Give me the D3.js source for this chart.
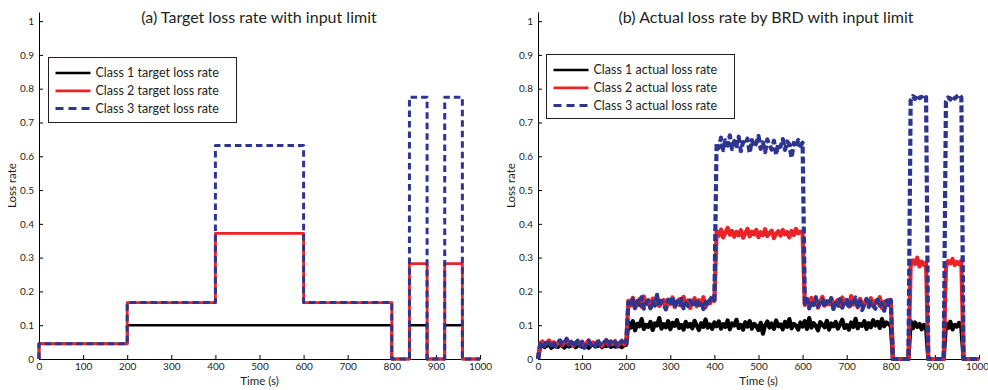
<!DOCTYPE html>
<html><head><meta charset="utf-8">
<script src="https://cdn.jsdelivr.net/npm/d3@7"></script>
<style>body{margin:0;background:#fff;} svg{display:block;font-family:Lato,'Open Sans',sans-serif;}</style>
</head><body><svg id="c" width="988" height="390"></svg>
<script>
// ---- data ----
const stepTimes = [0,200,400,600,800,840,880,920,960,1000];
const target1 = [0.045,0.1,0.1,0.1,0,0.1,0,0.1,0,0];
const target2 = [0.045,0.167,0.372,0.167,0,0.282,0,0.282,0,0];
const target3 = [0.045,0.167,0.632,0.167,0,0.775,0,0.775,0,0];
const xTicks = [0,100,200,300,400,500,600,700,800,900,1000];
const yTicks = [0,0.1,0.2,0.3,0.4,0.5,0.6,0.7,0.8,0.9,1];
const actualTimes = d3.range(0, 1001, 5);
const actual1 = [
 0,0.038,0.042,0.035,0.040,0.045,0.033,0.038,0.041,0.036,
 0.044,0.039,0.034,0.042,0.037,0.040,0.046,0.035,0.039,0.043,
 0.036,0.041,0.038,0.033,0.040,0.044,0.037,0.039,0.042,0.035,
 0.041,0.038,0.043,0.036,0.040,0.037,0.044,0.039,0.035,0.041,
 0.042,0.108,0.093,0.112,0.085,0.104,0.097,0.118,0.089,0.101,
 0.095,0.110,0.086,0.105,0.099,0.121,0.090,0.103,0.094,0.112,
 0.088,0.107,0.098,0.115,0.092,0.101,0.087,0.110,0.096,0.104,
 0.091,0.113,0.099,0.086,0.106,0.095,0.117,0.093,0.102,0.089,
 0.108,0.097,0.111,0.090,0.103,0.095,0.114,0.088,0.105,0.099,
 0.116,0.092,0.101,0.087,0.109,0.096,0.112,0.090,0.104,0.098,
 0.086,0.107,0.075,0.100,0.111,0.093,0.105,0.089,0.114,0.097,
 0.102,0.088,0.110,0.095,0.118,0.091,0.104,0.099,0.087,0.108,
 0.096,0.112,0.089,0.121,0.093,0.106,0.098,0.085,0.109,0.101,
 0.094,0.113,0.087,0.105,0.097,0.110,0.090,0.103,0.116,0.092,
 0.100,0.087,0.108,0.095,0.119,0.091,0.104,0.098,0.112,0.089,
 0.106,0.094,0.115,0.099,0.110,0.092,0.118,0.097,0.108,0.103,
 0.098,0,0,0,0,0,0,0,0,0.112,
 0.091,0.108,0.095,0.104,0.088,0.101,0.094,0,0,0,
 0,0,0,0,0,0.105,0.092,0.110,0.088,0.101,
 0.096,0.107,0.093,0,0,0,0,0,0,0,
 0];
const actual2 = [
 0,0.045,0.052,0.040,0.048,0.055,0.043,0.050,0.038,0.047,
 0.053,0.041,0.049,0.058,0.044,0.051,0.039,0.046,0.054,0.042,
 0.050,0.036,0.047,0.055,0.043,0.049,0.040,0.052,0.045,0.038,
 0.048,0.056,0.042,0.050,0.044,0.053,0.039,0.047,0.051,0.043,
 0.045,0.172,0.158,0.181,0.150,0.168,0.177,0.155,0.185,0.162,
 0.170,0.152,0.179,0.160,0.188,0.157,0.166,0.175,0.149,0.171,
 0.163,0.182,0.154,0.169,0.176,0.158,0.184,0.161,0.173,0.151,
 0.167,0.180,0.156,0.174,0.162,0.183,0.153,0.170,0.165,0.178,
 0.172,0.378,0.365,0.383,0.360,0.374,0.388,0.368,0.379,0.362,
 0.376,0.366,0.381,0.359,0.372,0.385,0.363,0.377,0.369,0.382,
 0.361,0.375,0.367,0.384,0.364,0.373,0.380,0.358,0.371,0.378,
 0.365,0.382,0.369,0.376,0.360,0.379,0.367,0.385,0.372,0.377,
 0.370,0.160,0.174,0.155,0.181,0.163,0.177,0.152,0.169,0.184,
 0.158,0.171,0.162,0.179,0.150,0.168,0.175,0.157,0.182,0.164,
 0.173,0.155,0.186,0.161,0.170,0.153,0.178,0.166,0.159,0.176,
 0.163,0.180,0.156,0.172,0.165,0.183,0.151,0.169,0.160,0.175,
 0.168,0,0,0,0,0,0,0,0,0.276,
 0.292,0.281,0.300,0.274,0.288,0.279,0.285,0,0,0,
 0,0,0,0,0,0.272,0.290,0.283,0.296,0.278,
 0.287,0.280,0.291,0,0,0,0,0,0,0,
 0];
const actual3 = [
 0,0.043,0.050,0.039,0.056,0.046,0.041,0.052,0.037,0.049,
 0.055,0.044,0.048,0.060,0.042,0.050,0.036,0.047,0.053,0.040,
 0.051,0.033,0.046,0.054,0.041,0.048,0.038,0.057,0.044,0.039,
 0.049,0.055,0.040,0.052,0.043,0.050,0.037,0.046,0.054,0.041,
 0.044,0.168,0.155,0.178,0.152,0.171,0.160,0.183,0.149,0.165,
 0.174,0.150,0.169,0.158,0.190,0.155,0.172,0.163,0.147,0.176,
 0.160,0.185,0.152,0.170,0.161,0.178,0.150,0.166,0.157,0.173,
 0.164,0.154,0.177,0.160,0.171,0.148,0.168,0.158,0.175,0.185,
 0.175,0.640,0.625,0.655,0.618,0.647,0.632,0.662,0.621,0.645,
 0.630,0.658,0.615,0.642,0.636,0.652,0.610,0.648,0.627,0.639,
 0.660,0.622,0.641,0.612,0.650,0.633,0.620,0.646,0.605,0.638,
 0.628,0.651,0.619,0.644,0.635,0.595,0.640,0.626,0.648,0.631,
 0.640,0.165,0.178,0.150,0.172,0.160,0.183,0.155,0.168,0.176,
 0.153,0.170,0.161,0.180,0.148,0.166,0.158,0.177,0.152,0.169,
 0.175,0.150,0.167,0.159,0.182,0.156,0.171,0.145,0.163,0.178,
 0.154,0.170,0.161,0.149,0.176,0.158,0.165,0.143,0.172,0.160,
 0.175,0,0,0,0,0,0,0,0,0.765,
 0.778,0.770,0.782,0.772,0.776,0.768,0.775,0,0,0,
 0,0,0,0,0,0.762,0.774,0.768,0.780,0.771,
 0.777,0.783,0.774,0,0,0,0,0,0,0,
 0];
const targetLabels = ["Class 1 target loss rate","Class 2 target loss rate","Class 3 target loss rate"];
const actualLabels = ["Class 1 actual loss rate","Class 2 actual loss rate","Class 3 actual loss rate"];

// ---- styles ----
const colors = ["#000000","#ed2227","#2e3591"];
const svg = d3.select("#c");
const yTop = 12, yBot = 359;

function panel(cfg){
  const g = svg.append("g");
  const x = d3.scaleLinear().domain([0,1000]).range([cfg.x0, cfg.x1]);
  const y = d3.scaleLinear().domain([0,1.027]).range([yBot, yTop]);

  const xa = g.append("g").attr("transform",`translate(0,${yBot})`)
    .call(d3.axisBottom(x).tickValues(xTicks).tickSizeInner(-4).tickSizeOuter(0).tickPadding(4)
      .tickFormat(d3.format("d")));
  const ya = g.append("g").attr("transform",`translate(${cfg.x0},0)`)
    .call(d3.axisLeft(y).tickValues(yTicks).tickSizeInner(-4).tickSizeOuter(0).tickPadding(5)
      .tickFormat(d => d===0 ? "0" : d===1 ? "1" : d3.format(".1f")(d)));
  [xa, ya].forEach(a => {
    a.selectAll("path,line").attr("stroke","#000").attr("stroke-width",1);
    a.selectAll("text").attr("fill","#231f20").style("font-size","10px").style("font-family","Lato,'Open Sans',sans-serif");
  });
  if (cfg.lastShift) xa.selectAll(".tick text").filter(d => d===1000).attr("dx", cfg.lastShift);

  const line = d3.line().x(d=>x(d[0])).y(d=>y(d[1]));
  cfg.series.forEach((pts,i)=>{
    g.append("path").datum(pts)
      .attr("d", cfg.curve ? line.curve(cfg.curve)(pts) : line.curve(d3.curveLinear)(pts))
      .attr("fill","none").attr("stroke",colors[i]).attr("stroke-width",cfg.widths[i])
      .attr("stroke-dasharray",cfg.dashes[i]).attr("stroke-linejoin","round");
  });

  // title
  g.append("text").attr("x",cfg.tx).attr("y",23).attr("text-anchor","middle")
    .style("font-size","16px").attr("fill","#231f20").text(cfg.title);
  // axis labels
  g.append("text").attr("x",(cfg.x0+cfg.x1)/2).attr("y",384.5).attr("text-anchor","middle")
    .style("font-size","11.5px").attr("fill","#231f20").text("Time (s)");
  g.append("text").attr("transform",`translate(${cfg.x0-23},${(yTop+yBot)/2}) rotate(-90)`)
    .attr("text-anchor","middle").style("font-size","11.5px").attr("fill","#231f20").text("Loss rate");

  // legend
  const L = cfg.legend;
  const lg = g.append("g");
  lg.append("rect").attr("x",L.x).attr("y",L.y).attr("width",L.w).attr("height",L.h)
    .attr("fill","#fff").attr("stroke","#231f20").attr("stroke-width",1);
  cfg.labels.forEach((lab,i)=>{
    const yy = L.y + 15.5 + i*17.8;
    lg.append("line").attr("x1",L.x+7).attr("x2",L.x+42).attr("y1",yy).attr("y2",yy)
      .attr("stroke",colors[i]).attr("stroke-width",i===2 ? 3 : 2.7).attr("stroke-dasharray", i===2 ? "8,5" : null);
    lg.append("text").attr("x",L.x+47).attr("y",yy).attr("dy","0.35em")
      .style("font-size","12.5px").attr("fill","#231f20").text(lab);
  });
}

const tpts = arr => [[0,0]].concat(stepTimes.map((t,i)=>[t, arr[i]]));
const apts = arr => actualTimes.map((t,i)=>[t, arr[i]]);

panel({x0:39, x1:480, tx:259, title:"(a) Target loss rate with input limit",
  series:[tpts(target1), tpts(target2), tpts(target3)], curve:d3.curveStepAfter,
  widths:[2.6,2.8,3], dashes:[null,null,"6.5,4"],
  labels:targetLabels, legend:{x:48.5,y:57.5,w:188,h:65}});
panel({x0:538, x1:979, tx:766, title:"(b) Actual loss rate by BRD with input limit",
  series:[apts(actual1), apts(actual2), apts(actual3)], curve:null,
  widths:[4.2,4.2,4.2], dashes:[null,null,"7,3"], lastShift:-2,
  labels:actualLabels, legend:{x:546.5,y:54.5,w:188,h:64}});
</script></body></html>
